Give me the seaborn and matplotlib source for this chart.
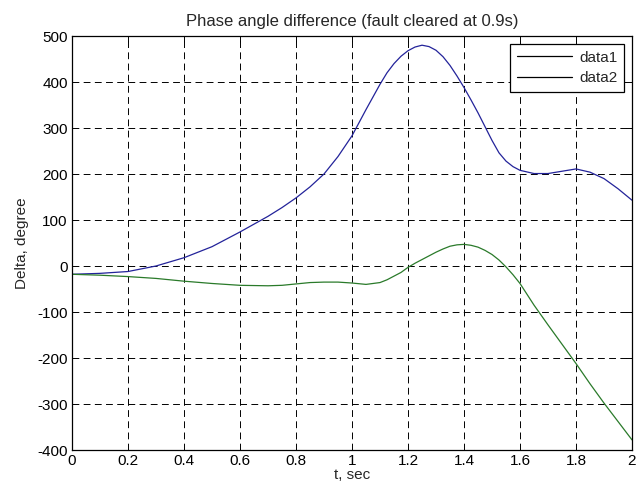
import numpy as np
import pandas as pd
import matplotlib
matplotlib.use("Agg")
import matplotlib.pyplot as plt
import seaborn as sns
from matplotlib.lines import Line2D

t = [0, 0.1, 0.2, 0.3, 0.4, 0.5, 0.6, 0.7, 0.75, 0.8, 0.85, 0.9, 0.95, 1.0, 1.05,
     1.1, 1.125, 1.15, 1.175, 1.2, 1.225, 1.25, 1.275, 1.3, 1.325, 1.35, 1.375,
     1.4, 1.425, 1.45, 1.475, 1.5, 1.525, 1.55, 1.575, 1.6, 1.65, 1.7, 1.75, 1.8,
     1.85, 1.9, 1.95, 2.0]
data1 = [-18, -16, -12, 0, 18, 42, 74, 108, 127, 148, 172, 200, 238, 283, 340,
         395, 420, 440, 456, 468, 476, 480, 477, 469, 455, 436, 413,
         388, 361, 333, 303, 273, 246, 228, 216, 208, 201, 201, 206, 211,
         204, 190, 168, 143]
data2 = [-18, -20, -23, -27, -33, -38, -42, -43, -42, -39, -36, -35, -35, -37, -40,
         -36, -30, -22, -14, -3, 6, 14, 22, 30, 37, 43, 46,
         47, 45, 41, 34, 25, 13, -2, -19, -38, -85, -128, -170, -212,
         -256, -298, -338, -378]
series_names = ["data1", "data2"]
xticks = [0, 0.2, 0.4, 0.6, 0.8, 1, 1.2, 1.4, 1.6, 1.8, 2]
xticklabels = ["0", "0.2", "0.4", "0.6", "0.8", "1", "1.2", "1.4", "1.6", "1.8", "2"]
yticks = [-400, -300, -200, -100, 0, 100, 200, 300, 400, 500]

df = pd.DataFrame({
    "t": t + t,
    "value": data1 + data2,
    "series": [series_names[0]] * len(t) + [series_names[1]] * len(t),
})

sns.set_style("white")
plt.rcParams["font.family"] = ["Liberation Sans", "DejaVu Sans"]
plt.rcParams["axes.unicode_minus"] = False
FS = 11

fig = plt.figure(figsize=(6.38, 4.90), dpi=100)
ax = fig.add_axes([72/638, 40/490, 560/638, 414/490])

palette = {"data1": "#23239a", "data2": "#2a7a2a"}
sns.lineplot(data=df, x="t", y="value", hue="series", palette=palette,
             linewidth=0.9, ax=ax, legend=False, estimator=None, sort=False)

ax.set_xlim(0, 2)
ax.set_ylim(-400, 500)
ax.set_xticks(xticks)
ax.set_xticklabels(xticklabels)
ax.set_yticks(yticks)
ax.grid(True, color="black", linestyle=(0, (7, 4.5)), linewidth=0.7)
ax.tick_params(direction="in", length=4, width=0.7, top=True, right=True,
               labelsize=FS, pad=3, colors="black")
for s in ax.spines.values():
    s.set_color("black")
    s.set_linewidth(0.9)

ax.set_xlabel("t, sec", fontsize=FS, labelpad=0)
ax.set_ylabel("Delta, degree", fontsize=FS, labelpad=6)
ax.set_title("Phase angle difference (fault cleared at 0.9s)", fontsize=12, pad=7)

handles = [Line2D([], [], color="black", linewidth=0.9),
           Line2D([], [], color="black", linewidth=0.9)]
leg = ax.legend(handles, series_names, loc="upper right", fancybox=False,
                framealpha=1, edgecolor="black", fontsize=FS,
                borderaxespad=0.5, handlelength=3.6, handletextpad=0.5,
                labelspacing=0.45, borderpad=0.45)
leg.get_frame().set_linewidth(0.9)

fig.savefig("out.png", dpi=100, facecolor="white")
